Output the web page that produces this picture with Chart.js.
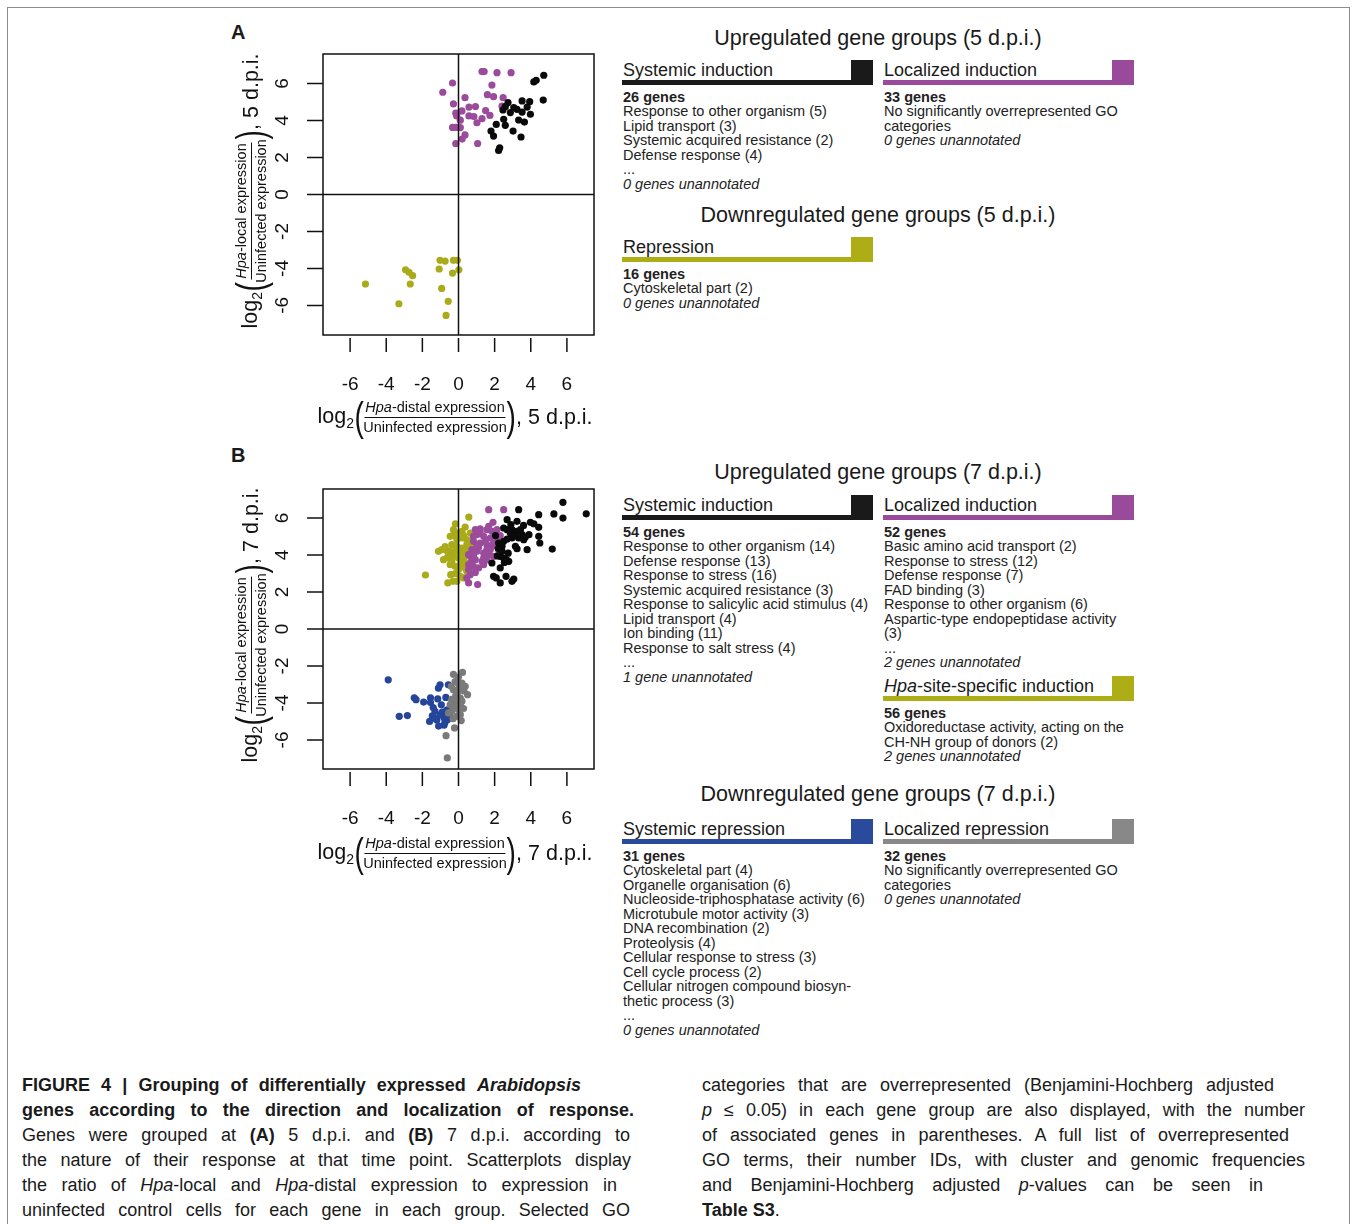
<!DOCTYPE html>
<html>
<head>
<meta charset="utf-8">
<script src="https://cdn.jsdelivr.net/npm/chart.js@4.4.0/dist/chart.umd.min.js"></script>
<style>
  body { margin: 0; width: 1358px; height: 1224px; background: #fff; position: relative; overflow: hidden;
         font-family: "Liberation Sans", Arial, Helvetica, sans-serif; color: #1a1a1a; }
  #frame { position: absolute; left: 7px; top: 7px; width: 1341px; height: 1240px; border: 1px solid #8c8c8c; }
  canvas { position: absolute; }
  .letter { position: absolute; font-weight: bold; font-size: 20px; line-height: 24px; }
  .axtitle { position: absolute; display: flex; align-items: center; white-space: nowrap; color: #111; }
  .axtitle .big { font-size: 21.5px; }
  .axtitle sub { font-size: 14px; vertical-align: -5px; }
  .axtitle .paren { font-size: 40px; line-height: 40px; font-weight: 300; transform: scaleX(0.7); display: inline-block; margin: 0 -2px; }
  .frac { display: flex; flex-direction: column; align-items: center; font-size: 14.5px; line-height: 17px; }
  .frac .num { border-bottom: 1.2px solid #111; padding: 0 1px 1px 1px; }
  .frac .den { padding-top: 1px; }
  .sechead { position: absolute; left: 622px; width: 512px; text-align: center; font-size: 21.5px; line-height: 26px; color: #1a1a1a; }
  .group { position: absolute; width: 251px; }
  .ghead { position: relative; height: 25px; }
  .gtitle { position: absolute; left: 1px; top: 0; font-size: 18px; line-height: 20px; white-space: nowrap; }
  .gline { position: absolute; left: 0; right: 0; bottom: 0; height: 5px; }
  .gblock { position: absolute; right: 0; top: 0; width: 22px; height: 25px; }
  .gbody { margin-top: 4.75px; padding-left: 1px; font-size: 14.5px; line-height: 14.5px; white-space: nowrap; color: #222; }
  .cap { position: absolute; font-family: "Liberation Sans Narrow", "Liberation Sans", Arial, sans-serif;
         font-size: 18px; line-height: 25px; height: 25px; text-align: justify; text-align-last: justify; color: #1a1a1a; }
</style>
</head>
<body>
<div id="frame"></div>

<div class="letter" style="left:231px;top:20px">A</div>
<div class="letter" style="left:231px;top:443px">B</div>

<canvas id="scatterA" width="345" height="370" style="left:270px;top:40px"></canvas>
<canvas id="scatterB" width="345" height="370" style="left:270px;top:475px"></canvas>

<script>
// tick values (both panels)
const xTickValues = [-6, -4, -2, 0, 2, 4, 6];
const yTickValues = [-6, -4, -2, 0, 2, 4, 6];

// colours of the gene groups
const colBlack = '#0a0a0a';
const colPurple = '#9b4b9c';
const colOlive = '#a9ab1b';
const colBlue = '#24459a';
const colGray = '#7a7a7a';

// panel A, 5 d.p.i. : [distal log2 ratio, local log2 ratio]
const a5Systemic = [
  [4.72, 6.45], [4.30, 6.18], [4.17, 6.09], [4.69, 5.11], [2.74, 4.97], [3.52, 5.06], [3.94, 5.02],
  [2.59, 4.75], [2.46, 4.57], [3.06, 4.70], [3.24, 4.61], [3.80, 4.73], [3.52, 4.46], [2.87, 4.43],
  [3.98, 4.34], [2.50, 4.07], [3.33, 4.03], [3.65, 3.92], [2.09, 3.79], [2.59, 3.74], [1.80, 3.43],
  [3.02, 3.43], [1.94, 3.16], [3.46, 3.11], [2.28, 2.53], [2.22, 2.38]
];
const a5Localized = [
  [1.30, 6.65], [1.42, 6.65], [2.13, 6.59], [2.91, 6.59], [-0.33, 6.03], [1.85, 5.92], [-0.87, 5.53],
  [1.60, 5.40], [1.94, 5.29], [0.36, 5.24], [2.47, 5.24], [-0.28, 4.90], [0.58, 4.73], [0.94, 4.76],
  [2.41, 4.78], [1.50, 4.54], [-0.15, 4.40], [0.19, 4.52], [-0.10, 4.25], [0.58, 4.25], [0.85, 4.22],
  [1.30, 4.10], [1.74, 4.28], [1.02, 3.88], [0.10, 4.02], [-0.33, 3.63], [-0.13, 3.63], [0.10, 3.62],
  [0.36, 3.22], [0.20, 3.00], [-0.15, 2.75], [1.06, 2.76], [-0.10, 4.35]
];
const a5Repression = [
  [-5.15, -4.84], [-3.30, -5.91], [-2.93, -4.07], [-2.74, -4.21], [-2.54, -4.39], [-2.67, -4.84],
  [-1.02, -3.56], [-0.74, -3.60], [-1.07, -4.03], [-0.28, -3.56], [-0.06, -3.56], [0.02, -4.07],
  [-0.33, -4.25], [-0.93, -5.08], [-0.57, -5.78], [-0.69, -6.54]
];

// panel B, 7 d.p.i.
const b7Systemic = [
  [5.78, 6.85], [7.07, 6.23], [5.28, 6.22], [5.78, 6.00], [3.33, 6.45], [4.44, 6.18], [2.69, 5.91],
  [3.24, 5.82], [3.98, 5.77], [4.17, 5.69], [4.44, 5.50], [2.50, 5.46], [2.69, 5.37], [2.96, 5.37],
  [3.24, 5.28], [3.52, 5.10], [3.33, 4.92], [4.44, 5.01], [4.50, 4.65], [2.96, 4.92], [2.69, 4.86],
  [2.50, 4.74], [3.61, 4.83], [3.70, 4.97], [2.22, 4.65], [2.41, 4.47], [3.15, 4.47], [3.24, 4.34],
  [3.80, 4.29], [5.19, 4.32], [2.41, 4.20], [2.31, 3.93], [2.50, 3.84], [2.65, 3.75], [2.78, 3.66],
  [2.54, 3.60], [2.31, 3.30], [1.85, 3.57], [1.94, 2.85], [2.09, 2.76], [2.63, 2.85], [3.06, 2.70],
  [2.96, 2.58], [2.31, 2.49], [2.87, 5.19], [3.43, 5.37], [3.90, 5.10], [2.05, 5.05], [2.20, 4.35],
  [2.75, 4.10], [3.60, 5.60], [2.90, 5.65], [2.15, 3.95], [3.10, 5.05]
];
const b7Localized = [
  [1.67, 6.45], [2.50, 6.45], [1.91, 5.77], [1.20, 5.41], [1.57, 5.37], [1.85, 5.28], [2.04, 5.19],
  [1.02, 5.10], [1.39, 5.01], [1.76, 4.92], [2.13, 4.83], [0.83, 4.74], [1.20, 4.65], [1.57, 4.56],
  [1.85, 4.47], [2.22, 4.29], [0.74, 4.29], [1.02, 4.20], [1.39, 4.11], [1.67, 4.02], [1.94, 3.93],
  [0.65, 3.93], [0.93, 3.75], [1.30, 3.66], [1.57, 3.75], [0.56, 3.48], [0.83, 3.39], [1.11, 3.30],
  [1.39, 3.48], [0.65, 2.94], [0.93, 3.06], [0.56, 2.49], [1.06, 2.40], [0.46, 2.76], [0.83, 5.01],
  [1.48, 4.74], [1.11, 4.41], [0.56, 4.02], [1.76, 4.29], [1.39, 3.84], [0.83, 4.02], [1.20, 5.19],
  [0.56, 3.21], [2.13, 5.37], [2.31, 5.05], [0.74, 3.66], [1.57, 4.29], [1.94, 4.65], [0.93, 5.37],
  [1.67, 5.55], [1.02, 4.47], [1.48, 3.93]
];
const b7HpaSite = [
  [0.57, 6.05], [-0.17, 5.69], [0.37, 5.51], [-0.46, 5.01], [-0.28, 5.05], [0.65, 5.19], [0.83, 5.10],
  [0.19, 4.92], [0.46, 4.83], [-0.93, 4.29], [-0.65, 4.25], [-0.46, 4.20], [-0.09, 4.47], [0.19, 4.38],
  [0.46, 4.29], [0.74, 4.38], [-0.83, 3.75], [-0.28, 3.93], [0.00, 3.84], [0.28, 3.75], [-0.46, 3.48],
  [-0.19, 3.39], [0.09, 3.48], [0.46, 3.57], [0.65, 3.30], [-0.43, 2.94], [-0.19, 2.99], [0.09, 2.85],
  [-0.59, 2.49], [-0.31, 2.58], [-1.83, 2.92], [-0.28, 5.37], [0.19, 5.28], [-1.11, 4.20], [0.09, 4.11],
  [0.37, 4.02], [-0.37, 4.56], [-0.09, 4.83], [-0.56, 3.96], [0.83, 3.93], [0.00, 3.21], [0.46, 3.12],
  [0.28, 2.76], [-0.09, 2.58], [0.83, 4.56], [0.46, 4.56], [-0.19, 4.20], [-0.37, 3.66], [0.19, 3.57],
  [0.56, 4.02], [-0.65, 3.84], [0.28, 5.05], [-0.09, 5.19], [0.37, 3.30], [-0.74, 4.45], [0.65, 4.74]
];
const b7SysRepression = [
  [-3.89, -2.75], [-2.45, -3.72], [-2.35, -3.82], [-1.93, -3.95], [-1.55, -3.72], [-1.15, -3.78],
  [-1.55, -3.98], [-3.28, -4.72], [-2.83, -4.68], [-1.30, -4.45], [-0.90, -4.50], [-1.25, -4.85],
  [-0.80, -4.80], [-1.60, -5.00], [-1.20, -4.92], [-1.10, -5.25], [-0.80, -5.20], [-1.02, -3.02],
  [-1.11, -3.20], [-0.56, -3.02], [-0.45, -4.18], [-0.65, -4.38], [-0.60, -4.90], [-0.95, -4.10],
  [-0.70, -3.70], [-1.40, -4.25], [-0.50, -4.60], [-1.00, -4.65], [-0.35, -3.90], [-0.75, -5.05],
  [-1.45, -4.70]
];
const b7LocRepression = [
  [-0.28, -2.45], [0.22, -2.35], [-0.19, -2.85], [0.19, -2.92], [0.00, -2.60], [-0.28, -3.28],
  [-0.06, -3.46], [0.50, -3.55], [0.37, -3.10], [0.10, -3.73], [-0.37, -3.80], [0.19, -3.90],
  [-0.09, -3.92], [-0.46, -4.09], [-0.19, -4.18], [0.10, -4.09], [-0.37, -4.45], [0.00, -4.36],
  [-0.55, -4.54], [-0.09, -4.72], [0.10, -4.63], [-0.22, -5.35], [-0.69, -5.77], [-0.62, -6.97],
  [0.28, -4.30], [-0.15, -3.60], [0.05, -3.20], [-0.40, -3.10], [0.15, -4.95], [-0.30, -4.85],
  [0.30, -3.35], [-0.05, -2.90]
];

// R-style box, zero lines, detached ticks and rotated y labels
const rAxes = {
  id: 'rAxes',
  afterDatasetsDraw(chart) {
    const { ctx, chartArea: a, scales: { x, y } } = chart;
    ctx.save();
    ctx.strokeStyle = '#111';
    ctx.lineWidth = 1.5;
    const x0 = x.getPixelForValue(0), y0 = y.getPixelForValue(0);
    ctx.beginPath();
    ctx.moveTo(x0, a.top); ctx.lineTo(x0, a.bottom);
    ctx.moveTo(a.left, y0); ctx.lineTo(a.right, y0);
    ctx.stroke();
    ctx.strokeRect(a.left, a.top, a.right - a.left, a.bottom - a.top);

    ctx.beginPath();
    xTickValues.forEach(v => {
      const px = x.getPixelForValue(v);
      ctx.moveTo(px, a.bottom + 3); ctx.lineTo(px, a.bottom + 17);
    });
    yTickValues.forEach(v => {
      const py = y.getPixelForValue(v);
      ctx.moveTo(a.left - 16, py); ctx.lineTo(a.left, py);
    });
    ctx.stroke();

    ctx.fillStyle = '#111';
    ctx.font = '19px "Liberation Sans", Arial, sans-serif';
    ctx.textAlign = 'center';
    ctx.textBaseline = 'middle';
    xTickValues.forEach(v => ctx.fillText(String(v), x.getPixelForValue(v), a.bottom + 50));
    yTickValues.forEach(v => {
      ctx.save();
      ctx.translate(a.left - 40, y.getPixelForValue(v));
      ctx.rotate(-Math.PI / 2);
      ctx.fillText(String(v), 0, 0);
      ctx.restore();
    });
    ctx.restore();
  }
};

function makeScatter(id, groups, pad, yLim) {
  // first dataset ends up on top
  const datasets = groups.map(g => ({
    data: g[0].map(p => ({ x: p[0], y: p[1] })),
    backgroundColor: g[1],
    borderWidth: 0,
    pointRadius: 3.6,
    pointHoverRadius: 3.6
  }));
  return new Chart(document.getElementById(id), {
    type: 'scatter',
    data: { datasets: datasets },
    options: {
      responsive: false,
      animation: false,
      layout: { padding: pad },
      plugins: { legend: { display: false }, tooltip: { enabled: false } },
      scales: {
        x: { type: 'linear', min: -7.5, max: 7.5, display: false },
        y: { type: 'linear', min: -yLim, max: yLim, display: false }
      }
    },
    plugins: [rAxes]
  });
}

makeScatter('scatterA', [
  [a5Systemic, colBlack], [a5Localized, colPurple], [a5Repression, colOlive]
], { left: 53, top: 14, right: 21, bottom: 75 }, 7.6);

makeScatter('scatterB', [
  [b7Systemic, colBlack], [b7Localized, colPurple], [b7HpaSite, colOlive],
  [b7LocRepression, colGray], [b7SysRepression, colBlue]
], { left: 53, top: 14, right: 21, bottom: 76 }, 7.57);

// axis titles with the fraction
function axisTitle(cx, cy, which, dpi, rotate) {
  const d = document.createElement('div');
  d.className = 'axtitle';
  d.style.left = cx + 'px';
  d.style.top = cy + 'px';
  d.style.transform = 'translate(-50%,-50%)' + (rotate ? ' rotate(-90deg)' : '');
  d.innerHTML = '<span class="big">log<sub>2</sub></span><span class="paren">(</span>' +
    '<span class="frac"><span class="num"><i>Hpa</i>-' + which + ' expression</span>' +
    '<span class="den">Uninfected expression</span></span>' +
    '<span class="paren">)</span><span class="big">, ' + dpi + ' d.p.i.</span>';
  document.body.appendChild(d);
}
axisTitle(455, 417, 'distal', 5, false);
axisTitle(251, 191, 'local', 5, true);
axisTitle(455, 853, 'distal', 7, false);
axisTitle(251, 625, 'local', 7, true);

// GO group boxes
function sectionHead(top, text) {
  const d = document.createElement('div');
  d.className = 'sechead';
  d.style.top = top + 'px';
  d.textContent = text;
  document.body.appendChild(d);
}
function addGroup(left, top, color, title, lines) {
  const g = document.createElement('div');
  g.className = 'group';
  g.style.left = left + 'px';
  g.style.top = top + 'px';
  g.innerHTML = '<div class="ghead"><span class="gtitle">' + title + '</span>' +
    '<div class="gline" style="background:' + color + '"></div>' +
    '<div class="gblock" style="background:' + color + '"></div></div>' +
    '<div class="gbody">' + lines.join('<br>') + '</div>';
  document.body.appendChild(g);
}

const barBlack = '#1a1a1a', barPurple = '#9a4a9a', barOlive = '#adae16', barBlue = '#2a4b9b', barGray = '#888888';

sectionHead(25, 'Upregulated gene groups (5 d.p.i.)');
addGroup(622, 60, barBlack, 'Systemic induction', [
  '<b>26 genes</b>', 'Response to other organism (5)', 'Lipid transport (3)',
  'Systemic acquired resistance (2)', 'Defense response (4)', '...', '<i>0 genes unannotated</i>'
]);
addGroup(883, 60, barPurple, 'Localized induction', [
  '<b>33 genes</b>', 'No significantly overrepresented GO', 'categories', '<i>0 genes unannotated</i>'
]);
sectionHead(202, 'Downregulated gene groups (5 d.p.i.)');
addGroup(622, 237, barOlive, 'Repression', [
  '<b>16 genes</b>', 'Cytoskeletal part (2)', '<i>0 genes unannotated</i>'
]);

sectionHead(459, 'Upregulated gene groups (7 d.p.i.)');
addGroup(622, 495, barBlack, 'Systemic induction', [
  '<b>54 genes</b>', 'Response to other organism (14)', 'Defense response (13)', 'Response to stress (16)',
  'Systemic acquired resistance (3)', 'Response to salicylic acid stimulus (4)', 'Lipid transport (4)',
  'Ion binding (11)', 'Response to salt stress (4)', '...', '<i>1 gene unannotated</i>'
]);
addGroup(883, 495, barPurple, 'Localized induction', [
  '<b>52 genes</b>', 'Basic amino acid transport (2)', 'Response to stress (12)', 'Defense response (7)',
  'FAD binding (3)', 'Response to other organism (6)', 'Aspartic-type endopeptidase activity', '(3)',
  '...', '<i>2 genes unannotated</i>'
]);
addGroup(883, 676, barOlive, '<i>Hpa</i>-site-specific induction', [
  '<b>56 genes</b>', 'Oxidoreductase activity, acting on the', 'CH-NH group of donors (2)',
  '<i>2 genes unannotated</i>'
]);
sectionHead(781, 'Downregulated gene groups (7 d.p.i.)');
addGroup(622, 819, barBlue, 'Systemic repression', [
  '<b>31 genes</b>', 'Cytoskeletal part (4)', 'Organelle organisation (6)',
  'Nucleoside-triphosphatase activity (6)', 'Microtubule motor activity (3)', 'DNA recombination (2)',
  'Proteolysis (4)', 'Cellular response to stress (3)', 'Cell cycle process (2)',
  'Cellular nitrogen compound biosyn-', 'thetic process (3)', '...', '<i>0 genes unannotated</i>'
]);
addGroup(883, 819, barGray, 'Localized repression', [
  '<b>32 genes</b>', 'No significantly overrepresented GO', 'categories', '<i>0 genes unannotated</i>'
]);

// caption, one justified line per row: [left, right end, html]
const captionLines = [
  [22, 581, '<b>FIGURE 4 | Grouping of differentially expressed <i>Arabidopsis</i></b>'],
  [22, 634, '<b>genes according to the direction and localization of response.</b>'],
  [22, 630, 'Genes were grouped at <b>(A)</b> 5 d.p.i. and <b>(B)</b> 7 d.p.i. according to'],
  [22, 631, 'the nature of their response at that time point. Scatterplots display'],
  [22, 617, 'the ratio of <i>Hpa</i>-local and <i>Hpa</i>-distal expression to expression in'],
  [22, 630, 'uninfected control cells for each gene in each group. Selected GO'],
  [702, 1274, 'categories that are overrepresented (Benjamini-Hochberg adjusted'],
  [702, 1305, '<i>p</i> \u2264 0.05) in each gene group are also displayed, with the number'],
  [702, 1289, 'of associated genes in parentheses. A full list of overrepresented'],
  [702, 1305, 'GO terms, their number IDs, with cluster and genomic frequencies'],
  [702, 1263, 'and Benjamini-Hochberg adjusted <i>p</i>-values can be seen in'],
  [702, 0, '<b>Table S3</b>.']
];
captionLines.forEach((l, i) => {
  const d = document.createElement('div');
  d.className = 'cap';
  d.style.left = l[0] + 'px';
  d.style.top = (1072.5 + (i % 6) * 25) + 'px';
  if (l[1]) { d.style.width = (l[1] - l[0]) + 'px'; }
  else { d.style.textAlign = 'left'; d.style.textAlignLast = 'left'; d.style.whiteSpace = 'nowrap'; }
  d.innerHTML = l[2];
  document.body.appendChild(d);
});
</script>
</body>
</html>
